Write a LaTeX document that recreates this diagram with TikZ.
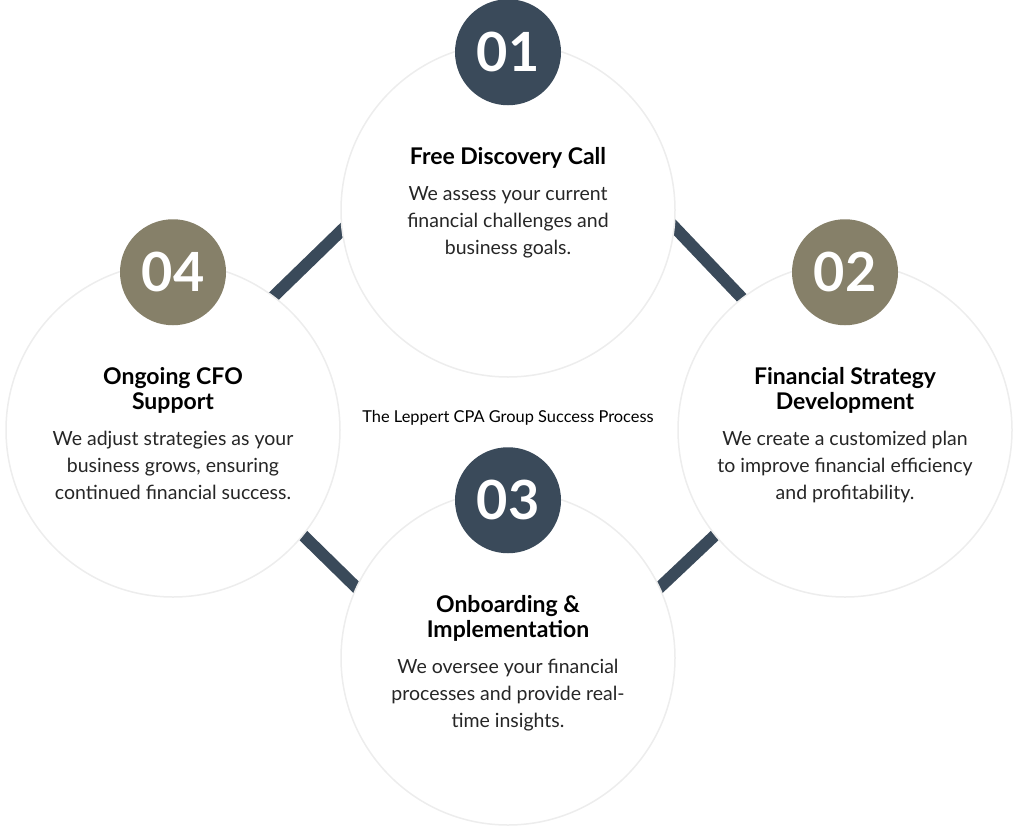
\documentclass[tikz,border=0pt]{standalone}
\usepackage{fontspec}
\setmainfont{Lato}
\usetikzlibrary{positioning, calc, backgrounds}
\definecolor{slate}{HTML}{3A4A5A}
\definecolor{olive}{HTML}{868069}

\begin{document}
\begin{tikzpicture}[x=1pt, y=1pt]
	\tikzstyle{stepc}=[circle, fill=white, draw=black!7, line width=1.5pt, minimum size=334pt, inner sep=0pt]
	\tikzstyle{badge}=[circle, minimum size=106pt, inner sep=0pt, text=white, font=\bfseries\fontsize{54}{54}\selectfont]
	\tikzstyle{ttl}=[align=center, anchor=north, font=\bfseries\fontsize{23}{25}\selectfont]
	\tikzstyle{txt}=[align=center, text=black!85, font=\fontsize{19.5}{27}\selectfont]
	\tikzstyle{bar}=[draw=slate, line width=12pt, shorten <=-15pt, shorten >=-15pt]
	\useasboundingbox (0,0) rectangle (1024,-835);
	% the four steps
	\node (c01) at (508,-210) [stepc]{};
	\node (c02) at (845,-430) [stepc]{};
	\node (c03) at (508,-658) [stepc]{};
	\node (c04) at (173,-430) [stepc]{};
	\begin{scope}[on background layer]
	\draw[bar] (c04.53) -- (c01.187);
	\draw[bar] (c01.354) -- (c02.128);
	\draw[bar] (c04.321) -- (c03.155);
	\draw[bar] (c02.219) -- (c03.25);
	\end{scope}
	% number badges
	\node (b01) at ($(c01.north)+(0,-10)$) [badge, fill=slate]{01};
	\node (b02) at ($(c02.north)+(0,-10)$) [badge, fill=olive]{02};
	\node (b03) at ($(c03.north)+(0,-10)$) [badge, fill=slate]{03};
	\node (b04) at ($(c04.north)+(0,-10)$) [badge, fill=olive]{04};
	% titles and texts
	\node (t01) at ($(c01)+(0,66)$) [ttl]{Free Discovery Call};
	\node (d01) [txt, below=11pt of t01]{We assess your current\\financial challenges and\\business goals.};
	\node (t02) at ($(c02)+(0,66)$) [ttl]{Financial Strategy\\Development};
	\node (d02) [txt, below=11pt of t02]{We create a customized plan\\to improve financial efficiency\\and profitability.};
	\node (t03) at ($(c03)+(0,66)$) [ttl]{Onboarding \&\\Implementation};
	\node (d03) [txt, below=11pt of t03]{We oversee your financial\\processes and provide real-\\time insights.};
	\node (t04) at ($(c04)+(0,66)$) [ttl]{Ongoing CFO\\Support};
	\node (d04) [txt, below=11pt of t04]{We adjust strategies as your\\business grows, ensuring\\continued financial success.};
	\node (lbl) at (508,-418) [font=\fontsize{16.4}{16}\selectfont]{The Leppert CPA Group Success Process};
\end{tikzpicture}
\end{document}
